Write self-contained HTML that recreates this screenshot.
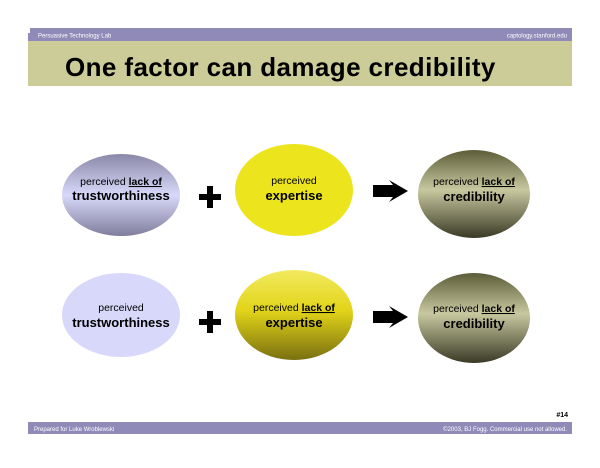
<!DOCTYPE html>
<html><head><style>
body{margin:0;width:600px;height:463px;background:#fff;overflow:hidden;font-family:"Liberation Sans",sans-serif}
</style></head><body>
<svg width="600" height="463" xmlns="http://www.w3.org/2000/svg" font-family="Liberation Sans, sans-serif">
<defs>
<linearGradient id="lav" x1="0" y1="0" x2="0" y2="1">
<stop offset="0" stop-color="#8a88a8"/><stop offset="0.5" stop-color="#d8d8fa"/><stop offset="1" stop-color="#807e9c"/></linearGradient>
<linearGradient id="oli" x1="0" y1="0" x2="0" y2="1">
<stop offset="0" stop-color="#5c5c38"/><stop offset="0.45" stop-color="#c8c8a0"/><stop offset="1" stop-color="#3a3a26"/></linearGradient>
<linearGradient id="yel" x1="0" y1="0" x2="0" y2="1">
<stop offset="0" stop-color="#f2ea60"/><stop offset="0.45" stop-color="#e2d418"/><stop offset="1" stop-color="#7a7010"/></linearGradient>
</defs>
<rect x="30" y="28" width="542" height="13" fill="#8f8ab8"/>
<rect x="28" y="33" width="4" height="8" fill="#8f8ab8"/>
<text x="38" y="37.5" font-size="6" fill="#fff">Persuasive Technology Lab</text>
<text x="567" y="37.5" font-size="6" fill="#fff" text-anchor="end">captology.stanford.edu</text>
<rect x="28" y="41" width="544" height="45" fill="#cccc99"/>
<text x="65" y="76" font-size="26" font-weight="bold" fill="#000" letter-spacing="0.4">One factor can damage credibility</text>

<g font-size="10.5" text-anchor="middle">
<ellipse cx="121" cy="195" rx="59" ry="41" fill="url(#lav)"/>
<text x="121" y="185">perceived <tspan font-weight="bold" text-decoration="underline">lack of</tspan></text>
<text x="121" y="200" font-size="13" font-weight="bold">trustworthiness</text>
<ellipse cx="294" cy="190" rx="59" ry="46" fill="#ece41c"/>
<text x="294" y="184">perceived</text>
<text x="294" y="200" font-size="13" font-weight="bold">expertise</text>
<ellipse cx="474" cy="194" rx="56" ry="44" fill="url(#oli)"/>
<text x="474" y="185">perceived <tspan font-weight="bold" text-decoration="underline">lack of</tspan></text>
<text x="474" y="201" font-size="13" font-weight="bold">credibility</text>

<ellipse cx="121" cy="315" rx="59" ry="42" fill="#d8d8fa"/>
<text x="121" y="311">perceived</text>
<text x="121" y="327" font-size="13" font-weight="bold">trustworthiness</text>
<ellipse cx="294" cy="315" rx="59" ry="45" fill="url(#yel)"/>
<text x="294" y="311">perceived <tspan font-weight="bold" text-decoration="underline">lack of</tspan></text>
<text x="294" y="327" font-size="13" font-weight="bold">expertise</text>
<ellipse cx="474" cy="318" rx="56" ry="45" fill="url(#oli)"/>
<text x="474" y="312">perceived <tspan font-weight="bold" text-decoration="underline">lack of</tspan></text>
<text x="474" y="328" font-size="13" font-weight="bold">credibility</text>
</g>
<g fill="#000">
<rect x="199" y="194" width="22" height="6"/><rect x="207" y="186" width="6" height="22"/>
<rect x="199" y="319" width="22" height="6"/><rect x="207" y="311" width="6" height="22"/>
<polygon points="373,185 393,185 389,180 408,191 389,202 393,197 373,197"/>
<polygon points="373,311 393,311 389,306 408,317 389,328 393,323 373,323"/>
</g>
<text x="568" y="417" font-size="7" font-weight="bold" text-anchor="end">#14</text>
<rect x="28" y="422" width="544" height="12" fill="#8f8ab8"/>
<text x="34" y="431" font-size="6" fill="#fff">Prepared for Luke Wroblewski</text>
<text x="567" y="431" font-size="6" fill="#fff" text-anchor="end">©2003, BJ Fogg. Commercial use not allowed.</text>
</svg>
</body></html>
